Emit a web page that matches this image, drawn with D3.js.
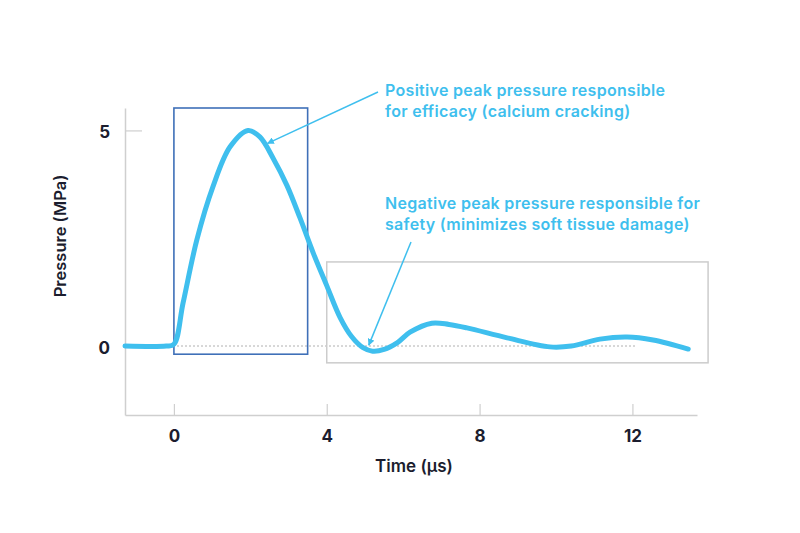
<!DOCTYPE html>
<html>
<head>
<meta charset="utf-8">
<script src="https://cdn.jsdelivr.net/npm/d3@7"></script>
<style>
  body { margin: 0; background: #fff; }
  svg { display: block; }
  text { font-family: Inter, "Open Sans", sans-serif; }
</style>
</head>
<body>
<div id="chart"></div>
<script>
// waveform (time in µs, pressure in MPa)
const times = [-1.28, -0.2, 0, 0.24, 0.6, 1.02, 1.47, 1.94, 2.25, 2.6, 2.96, 3.3, 3.65, 4.0, 4.35, 4.65, 4.95, 5.2, 5.5, 5.85, 6.18, 6.75, 7.2, 7.67, 8.72, 9.84, 10.4, 11.15, 11.86, 12.54, 13.46];
const pressure = [0, 0, 0.04, 1.0, 2.46, 3.69, 4.62, 5.0, 4.85, 4.35, 3.72, 2.97, 2.15, 1.4, 0.66, 0.22, -0.04, -0.12, -0.08, 0.08, 0.32, 0.53, 0.5, 0.42, 0.19, -0.02, 0, 0.16, 0.21, 0.14, -0.07];

const xTicks = [0, 4, 8, 12];
const yTicks = [0, 5];

// highlight boxes: [t0, t1, p0, p1]
const positiveBox = [0, 3.5, -0.19, 5.52];
const negativeBox = [4.0, 13.98, -0.39, 1.95];

const positiveNote = ["Positive peak pressure responsible", "for efficacy (calcium cracking)"];
const negativeNote = ["Negative peak pressure responsible for", "safety (minimizes soft tissue damage)"];

const width = 800;
const height = 533;
const lineColor = '#3fbfee';
const inkColor = '#1b1d2e';

const x = d3.scaleLinear().domain([-1.28, 13.69]).range([125, 697]);
const y = d3.scaleLinear().domain([-1.6, 5.52]).range([415, 108]);

const svg = d3.select('#chart')
    .append('svg')
    .attr('width', width)
    .attr('height', height);

svg.append('defs').append('marker')
    .attr('id', 'head')
    .attr('viewBox', '0 0 10 10')
    .attr('refX', 9)
    .attr('refY', 5)
    .attr('markerWidth', 7)
    .attr('markerHeight', 7)
    .attr('markerUnits', 'userSpaceOnUse')
    .attr('orient', 'auto')
    .append('path')
    .attr('d', 'M0,0 L10,5 L0,10 z')
    .attr('fill', lineColor);

// axes
const xAxis = d3.axisBottom(x).tickValues(xTicks).tickSizeInner(-11).tickSizeOuter(0).tickPadding(15);
const yAxis = d3.axisLeft(y).tickValues(yTicks).tickSizeInner(-17).tickSizeOuter(0).tickPadding(15);

const gx = svg.append('g').attr('transform', `translate(0,${y.range()[0]})`).call(xAxis);
const gy = svg.append('g').attr('transform', `translate(${x.range()[0]},0)`).call(yAxis);

[gx, gy].forEach(g => {
    g.select('.domain').attr('stroke', '#cfcfcf').attr('stroke-width', 1.5);
    g.selectAll('.tick line').attr('stroke', '#cfcfcf').attr('stroke-width', 1.2);
    g.selectAll('.tick text')
        .attr('fill', inkColor)
        .style('font-size', '17px')
        .style('font-weight', 700);
});
gy.selectAll('.tick text').attr('dy', '0.42em');

// zero reference line
svg.append('line')
    .attr('x1', x(-1.28)).attr('x2', x(12.1))
    .attr('y1', y(0)).attr('y2', y(0))
    .attr('stroke', '#b0b0b0')
    .attr('stroke-width', 1)
    .attr('stroke-dasharray', '2,2');

// boxes
svg.append('rect')
    .attr('x', x(negativeBox[0]))
    .attr('y', y(negativeBox[3]))
    .attr('width', x(negativeBox[1]) - x(negativeBox[0]))
    .attr('height', y(negativeBox[2]) - y(negativeBox[3]))
    .attr('fill', 'none')
    .attr('stroke', '#cccccc')
    .attr('stroke-width', 1.5);

svg.append('rect')
    .attr('x', x(positiveBox[0]))
    .attr('y', y(positiveBox[3]))
    .attr('width', x(positiveBox[1]) - x(positiveBox[0]))
    .attr('height', y(positiveBox[2]) - y(positiveBox[3]))
    .attr('fill', 'none')
    .attr('stroke', '#3f70b8')
    .attr('stroke-width', 1.6);

// waveform
const line = d3.line()
    .x((d, i) => x(times[i]))
    .y(d => y(d))
    .curve(d3.curveCatmullRom.alpha(0.5));

svg.append('path')
    .datum(pressure)
    .attr('d', line)
    .attr('fill', 'none')
    .attr('stroke', lineColor)
    .attr('stroke-width', 5)
    .attr('stroke-linecap', 'round');

// annotations
function note(lines, tx, ty) {
    const t = svg.append('text')
        .attr('x', tx)
        .attr('y', ty)
        .attr('fill', lineColor)
        .style('font-size', '16px')
        .style('font-weight', 600)
        .style('letter-spacing', '0.3px');
    lines.forEach((s, i) => {
        t.append('tspan').attr('x', tx).attr('dy', i ? 21 : 0).text(s);
    });
}
note(positiveNote, 385, 96);
note(negativeNote, 385, 209);

svg.append('line')
    .attr('x1', 378).attr('y1', 92)
    .attr('x2', x(2.45)).attr('y2', y(4.7))
    .attr('stroke', lineColor)
    .attr('stroke-width', 1.5)
    .attr('marker-end', 'url(#head)');

svg.append('line')
    .attr('x1', 411).attr('y1', 242)
    .attr('x2', x(5.1)).attr('y2', y(0.02))
    .attr('stroke', lineColor)
    .attr('stroke-width', 1.5)
    .attr('marker-end', 'url(#head)');

// axis titles
svg.append('text')
    .attr('x', 414)
    .attr('y', 472)
    .attr('text-anchor', 'middle')
    .attr('fill', inkColor)
    .style('font-size', '17px')
    .style('font-weight', 600)
    .text('Time (µs)');

svg.append('text')
    .attr('transform', 'translate(66,236) rotate(-90)')
    .attr('text-anchor', 'middle')
    .attr('fill', inkColor)
    .style('font-size', '16.5px')
    .style('font-weight', 600)
    .text('Pressure (MPa)');
</script>
</body>
</html>
